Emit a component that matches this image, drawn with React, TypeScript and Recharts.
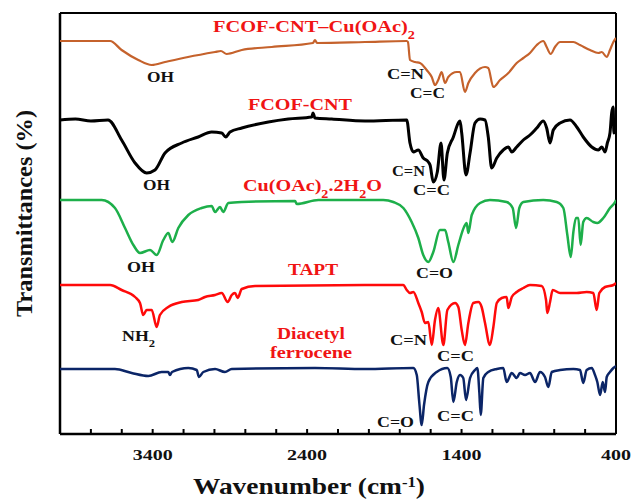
import { LineChart, Line, XAxis, YAxis, ReferenceLine } from 'recharts';

// wavenumber (cm-1), transmittance (a.u., curves stacked)
const CU_CNT: [number, number][] = [
  [4000, 392], [3676, 392], [3601, 383], [3493, 373], [3406, 368], [3320, 371], [3171, 376], [2996, 381],
  [2958, 382], [2921, 379], [2823, 383], [2629, 386], [2362, 390], [2349, 393], [2336, 390], [2025, 391],
  [1755, 392], [1747, 391], [1734, 373], [1701, 371], [1669, 370], [1626, 363], [1593, 356], [1572, 348],
  [1551, 353], [1529, 361], [1507, 350], [1486, 356], [1431, 361], [1410, 361], [1378, 341], [1356, 350],
  [1313, 360], [1248, 366], [1227, 365], [1194, 346], [1151, 353], [1097, 360], [1043, 370], [1000, 375],
  [957, 380], [913, 388], [871, 392], [849, 386], [823, 379], [795, 386], [762, 391], [676, 391],
  [633, 388], [568, 383], [514, 380], [492, 381], [460, 376], [439, 383], [417, 391], [400, 395],
];

const FCOF_CNT: [number, number][] = [
  [4000, 313], [3900, 314], [3800, 312], [3689, 313], [3601, 293], [3514, 270], [3439, 260], [3385, 263],
  [3320, 280], [3212, 290], [3105, 296], [3018, 301], [2953, 300], [2927, 296], [2899, 301], [2823, 305],
  [2651, 311], [2522, 314], [2370, 316], [2362, 320], [2349, 315], [2241, 314], [2025, 312], [1755, 313],
  [1734, 290], [1712, 281], [1680, 283], [1648, 275], [1615, 271], [1604, 268], [1583, 251], [1557, 261],
  [1533, 290], [1514, 253], [1492, 280], [1453, 296], [1421, 310], [1410, 312], [1399, 300], [1371, 258],
  [1345, 280], [1313, 310], [1280, 314], [1248, 313], [1227, 296], [1205, 265], [1172, 275], [1130, 283],
  [1097, 286], [1075, 281], [1043, 286], [1000, 293], [957, 298], [913, 305], [871, 312], [849, 305],
  [827, 290], [806, 303], [762, 310], [698, 313], [654, 306], [612, 296], [557, 286], [514, 283],
  [492, 286], [471, 281], [456, 290], [439, 300], [428, 320], [418, 326], [414, 300], [400, 310],
];

const CU_OAC: [number, number][] = [
  [4000, 233], [3730, 233], [3644, 225], [3579, 205], [3525, 188], [3482, 180], [3417, 183], [3374, 178],
  [3331, 193], [3299, 200], [3273, 191], [3234, 205], [3169, 218], [3083, 225], [3018, 227], [2996, 221],
  [2964, 226], [2943, 221], [2910, 230], [2823, 231], [2478, 232], [2467, 229], [2327, 233], [2025, 233],
  [1907, 233], [1842, 231], [1777, 225], [1723, 211], [1680, 195], [1648, 178], [1615, 171], [1583, 181],
  [1540, 203], [1507, 203], [1486, 191], [1453, 171], [1421, 188], [1384, 206], [1367, 210], [1356, 200],
  [1334, 218], [1280, 230], [1216, 233], [1108, 231], [1069, 225], [1047, 205], [1026, 225], [1000, 231],
  [871, 233], [784, 231], [741, 225], [715, 198], [693, 176], [676, 201], [659, 215], [644, 215],
  [629, 188], [612, 211], [590, 215], [547, 211], [521, 210], [482, 215], [439, 225], [406, 231], [400, 233],
];

const TAPT: [number, number][] = [
  [4000, 148], [3676, 148], [3601, 143], [3514, 136], [3482, 130], [3461, 118], [3439, 123], [3406, 123],
  [3374, 106], [3353, 118], [3299, 126], [3212, 131], [3105, 133], [3061, 136], [2996, 138], [2953, 140],
  [2914, 131], [2888, 138], [2867, 140], [2849, 135], [2823, 144], [2737, 147], [2025, 148], [1777, 148],
  [1755, 143], [1734, 140], [1712, 141], [1680, 130], [1658, 121], [1637, 110], [1615, 111], [1593, 88],
  [1572, 113], [1551, 125], [1518, 88], [1492, 123], [1442, 130], [1421, 126], [1399, 103], [1378, 88],
  [1356, 110], [1324, 130], [1291, 131], [1270, 126], [1248, 110], [1216, 88], [1194, 106], [1172, 130],
  [1140, 135], [1108, 136], [1097, 125], [1075, 136], [1043, 141], [1000, 145], [957, 148], [881, 147],
  [853, 133], [845, 120], [827, 131], [810, 143], [762, 140], [654, 140], [590, 141], [547, 140],
  [525, 123], [508, 140], [471, 146], [417, 148], [400, 150],
];

const DIACETYL: [number, number][] = [
  [4000, 64], [3644, 64], [3536, 60], [3428, 57], [3342, 61], [3299, 61], [3288, 58], [3275, 61],
  [3169, 65], [3115, 63], [3100, 56], [3072, 61], [2996, 64], [2932, 61], [2888, 64], [2349, 65],
  [2025, 64], [1712, 65], [1690, 58], [1674, 31], [1658, 8], [1643, 28], [1615, 51], [1561, 61],
  [1492, 65], [1470, 56], [1453, 31], [1431, 51], [1410, 58], [1389, 55], [1371, 33], [1345, 55],
  [1313, 63], [1298, 65], [1285, 41], [1276, 18], [1259, 55], [1227, 61], [1172, 64], [1130, 65],
  [1108, 51], [1075, 60], [1043, 55], [1022, 60], [989, 58], [957, 60], [924, 51], [892, 61],
  [860, 56], [838, 46], [816, 61], [762, 63], [676, 64], [633, 63], [612, 50], [590, 63],
  [557, 65], [536, 58], [521, 51], [503, 38], [486, 51], [471, 41], [460, 56], [439, 61], [417, 65], [400, 67],
];

const X_TICKS = [4000, 3800, 3600, 3400, 3200, 3000, 2800, 2600, 2400, 2200, 2000, 1800, 1600, 1400, 1200, 1000, 800, 600, 400];
const X_LABELS = [3400, 2400, 1400, 400];

const SERIES = [
  { name: 'FCOF-CNT–Cu(OAc)2', pts: CU_CNT, color: '#C5622C', width: 2.2 },
  { name: 'FCOF-CNT', pts: FCOF_CNT, color: '#000000', width: 3 },
  { name: 'Cu(OAc)2.2H2O', pts: CU_OAC, color: '#1DAF4A', width: 2.5 },
  { name: 'TAPT', pts: TAPT, color: '#FF0A0A', width: 2.5 },
  { name: 'Diacetyl ferrocene', pts: DIACETYL, color: '#0B2567', width: 2.5 },
];

const SERIF = '"Liberation Serif", "Times New Roman", serif';
const LABEL_RED = '#F01414';

function WnTick(props: any) {
  const { x, y, payload } = props;
  const major = X_LABELS.includes(payload.value);
  const s = String(payload.value);
  return (
    <g>
      <line x1={x} x2={x} y1={y} y2={y - 5} stroke="#000" strokeWidth={2} />
      {major && (
        <text x={x} y={y + 26} textAnchor="middle" fontFamily={SERIF} fontWeight="bold" fontSize={15}
          fill="#111" textLength={s.length * 10} lengthAdjust="spacingAndGlyphs">
          {s}
        </text>
      )}
    </g>
  );
}

function Sub({ children }: { children: string }) {
  return <tspan baselineShift="sub" fontSize="0.7em">{children}</tspan>;
}

function T(p: { x: number; y: number; w: number; size?: number; fill?: string; children: any }) {
  return (
    <text x={p.x} y={p.y} fontFamily={SERIF} fontWeight="bold" fontSize={p.size ?? 15}
      fill={p.fill ?? '#111'} textLength={p.w} lengthAdjust="spacingAndGlyphs">
      {p.children}
    </text>
  );
}

export default function App() {
  return (
    <div style={{ position: 'absolute', left: 0, top: 0, width: 631, height: 500, background: '#fff' }}>
      <LineChart width={631} height={500} margin={{ top: 13, right: 15, bottom: 36, left: 60 }}>
        <XAxis dataKey="wn" type="number" domain={[400, 4000]} reversed allowDataOverflow
          ticks={X_TICKS} interval={0} tick={<WnTick />} tickLine={false} tickSize={0} tickMargin={0}
          height={30} axisLine={{ stroke: '#000', strokeWidth: 2.5 }} />
        <YAxis type="number" domain={[-1, 420]} allowDataOverflow tick={false} tickLine={false} width={0}
          axisLine={false} />
        <ReferenceLine x={4000} stroke="#000" strokeWidth={2.5} />
        <ReferenceLine x={400} stroke="#000" strokeWidth={2} />
        <ReferenceLine y={420} stroke="#000" strokeWidth={2} />
        {SERIES.map((s) => (
          <Line key={s.name} name={s.name} data={s.pts.map(([wn, t]) => ({ wn, t }))} dataKey="t"
            type="monotone" stroke={s.color} strokeWidth={s.width} dot={false} isAnimationActive={false}
            strokeLinejoin="round" />
        ))}
      </LineChart>
      <svg width={631} height={500} style={{ position: 'absolute', left: 0, top: 0, pointerEvents: 'none' }}>
        <T x={213} y={32} w={202} size={17} fill={LABEL_RED}>FCOF-CNT–Cu(OAc)<Sub>2</Sub></T>
        <T x={248} y={110} w={104} size={17} fill={LABEL_RED}>FCOF-CNT</T>
        <T x={243} y={191} w={139} size={17} fill={LABEL_RED}>Cu(OAc)<Sub>2</Sub>.2H<Sub>2</Sub>O</T>
        <T x={288} y={275} w={50} size={17} fill={LABEL_RED}>TAPT</T>
        <T x={277} y={339} w={68} size={17} fill={LABEL_RED}>Diacetyl</T>
        <T x={270} y={358} w={82} size={17} fill={LABEL_RED}>ferrocene</T>

        <T x={147} y={82} w={27}>OH</T>
        <T x={143} y={190} w={27}>OH</T>
        <T x={127} y={272} w={28}>OH</T>
        <T x={122} y={341} w={33}>NH<Sub>2</Sub></T>
        <T x={387} y={79} w={37}>C=N</T>
        <T x={410} y={98} w={35}>C=C</T>
        <T x={392} y={176} w={33}>C=N</T>
        <T x={413} y={195} w={37}>C=C</T>
        <T x={416} y={278} w={37}>C=O</T>
        <T x={390} y={345} w={37}>C=N</T>
        <T x={437} y={361} w={37}>C=C</T>
        <T x={377} y={427} w={37}>C=O</T>
        <T x={437} y={421} w={37}>C=C</T>

        <text x={193} y={494} fontFamily={SERIF} fontWeight="bold" fontSize={23} fill="#111"
          textLength={232} lengthAdjust="spacingAndGlyphs">
          Wavenumber (cm<tspan baselineShift="super" fontSize={14}>-1</tspan>)
        </text>
        <text transform="rotate(-90)" x={-317} y={32} fontFamily={SERIF} fontWeight="bold" fontSize={24}
          fill="#111" textLength={207} lengthAdjust="spacingAndGlyphs">
          Transmittances (%)
        </text>
      </svg>
    </div>
  );
}
